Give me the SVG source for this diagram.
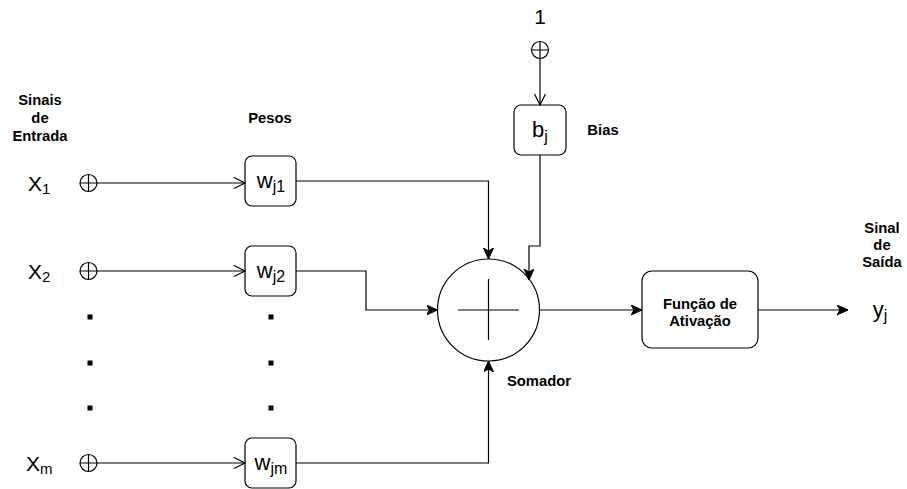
<svg xmlns="http://www.w3.org/2000/svg" width="907" height="489" viewBox="0 0 907 489">
<style>
.t{font-family:"Liberation Sans",Arial,Helvetica,sans-serif;fill:#000}
.b{font-weight:bold;font-size:14.8px}
.big{font-size:21px}
.box{fill:#fff;stroke:#000;stroke-width:1.2}
.ln{fill:none;stroke:#000;stroke-width:1.2}
.dot{fill:#000}
</style>
<defs>
<marker id="open" markerUnits="userSpaceOnUse" markerWidth="14" markerHeight="14" refX="12" refY="6" orient="auto">
<path d="M1,0.5 L12,6 L1,11.5" fill="none" stroke="#000" stroke-width="1.2"/>
</marker>
<marker id="fill" markerUnits="userSpaceOnUse" markerWidth="14" markerHeight="14" refX="11" refY="5" orient="auto">
<path d="M0,0 L11,5 L0,10 L3,5 Z" fill="#000" stroke="#000" stroke-width="1"/>
</marker>
</defs>

<g id="labels">
<text class="t b" text-anchor="middle"><tspan x="40" y="105">Sinais</tspan><tspan x="40" y="123">de</tspan><tspan x="40" y="141">Entrada</tspan></text>
<text class="t b" x="270" y="123" text-anchor="middle">Pesos</text>
<text class="t b" x="603" y="135" text-anchor="middle">Bias</text>
<text class="t b" x="539" y="386" text-anchor="middle">Somador</text>
<text class="t b" text-anchor="middle"><tspan x="882" y="233">Sinal</tspan><tspan x="882" y="250">de</tspan><tspan x="882" y="267">Saída</tspan></text>
</g>

<g id="x1"><text class="t big" x="28" y="191">X<tspan font-size="15" dy="3">1</tspan></text>
<circle cx="88.5" cy="183" r="8.5" class="ln"/><path d="M80,183H97M88.5,174.5V191.5" class="ln"/></g>
<g id="x2"><text class="t big" x="28" y="279">X<tspan font-size="15" dy="3">2</tspan></text>
<circle cx="88.5" cy="271" r="8.5" class="ln"/><path d="M80,271H97M88.5,262.5V279.5" class="ln"/></g>
<g id="xm"><text class="t big" x="26" y="471">X<tspan font-size="15" dy="3">m</tspan></text>
<circle cx="88.5" cy="463" r="8.5" class="ln"/><path d="M80,463H97M88.5,454.5V471.5" class="ln"/></g>

<g id="dots">
<rect class="dot" x="87.5" y="314.5" width="5" height="5"/>
<rect class="dot" x="87.5" y="360.5" width="5" height="5"/>
<rect class="dot" x="87.5" y="405.5" width="5" height="5"/>
<rect class="dot" x="268.5" y="314.5" width="5" height="5"/>
<rect class="dot" x="268.5" y="360.5" width="5" height="5"/>
<rect class="dot" x="268.5" y="405.5" width="5" height="5"/>
</g>

<g id="wj1"><rect class="box" x="245" y="156" width="51" height="50" rx="7"/>
<text class="t" x="271" y="188" font-size="22" text-anchor="middle">w<tspan font-size="16" dy="4">j1</tspan></text></g>
<g id="wj2"><rect class="box" x="245" y="246" width="51" height="50" rx="7"/>
<text class="t" x="271" y="278" font-size="22" text-anchor="middle">w<tspan font-size="16" dy="4">j2</tspan></text></g>
<g id="wjm"><rect class="box" x="245" y="438" width="51" height="50" rx="7"/>
<text class="t" x="271" y="470" font-size="22" text-anchor="middle">w<tspan font-size="16" dy="4">jm</tspan></text></g>

<g id="one"><text class="t big" x="540" y="24" text-anchor="middle">1</text>
<circle cx="540" cy="50" r="8.5" class="ln"/><path d="M531.5,50H548.5M540,41.5V58.5" class="ln"/></g>
<g id="bj"><rect class="box" x="514" y="105" width="52" height="50" rx="7"/>
<text class="t" x="540" y="137" font-size="22" text-anchor="middle">b<tspan font-size="16" dy="5">j</tspan></text></g>

<g id="somador"><circle cx="488.5" cy="310" r="51" class="box"/>
<path d="M458,310H519M488.5,279V340" class="ln"/></g>

<g id="ativacao"><rect class="box" x="642" y="271" width="116" height="77" rx="10"/>
<text class="t b" text-anchor="middle"><tspan x="700" y="309">Função de</tspan><tspan x="700" y="326">Ativação</tspan></text></g>

<g id="yj"><text class="t" x="880" y="317" font-size="22" text-anchor="middle">y<tspan font-size="16" dy="4">j</tspan></text></g>

<g id="connectors">
<path class="ln" d="M97,183H245" marker-end="url(#open)"/>
<path class="ln" d="M97,271H245" marker-end="url(#open)"/>
<path class="ln" d="M97,463H245" marker-end="url(#open)"/>
<path class="ln" d="M540,58.5V105" marker-end="url(#open)"/>
<path class="ln" d="M296,181H488.5V259" marker-end="url(#fill)"/>
<path class="ln" d="M296,271H366V310H437.5" marker-end="url(#fill)"/>
<path class="ln" d="M296,463H488.5V361" marker-end="url(#fill)"/>
<path class="ln" d="M540,155V246H529V280" marker-end="url(#fill)"/>
<path class="ln" d="M539.5,310H642" marker-end="url(#fill)"/>
<path class="ln" d="M758,310H848" marker-end="url(#fill)"/>
</g>
</svg>
